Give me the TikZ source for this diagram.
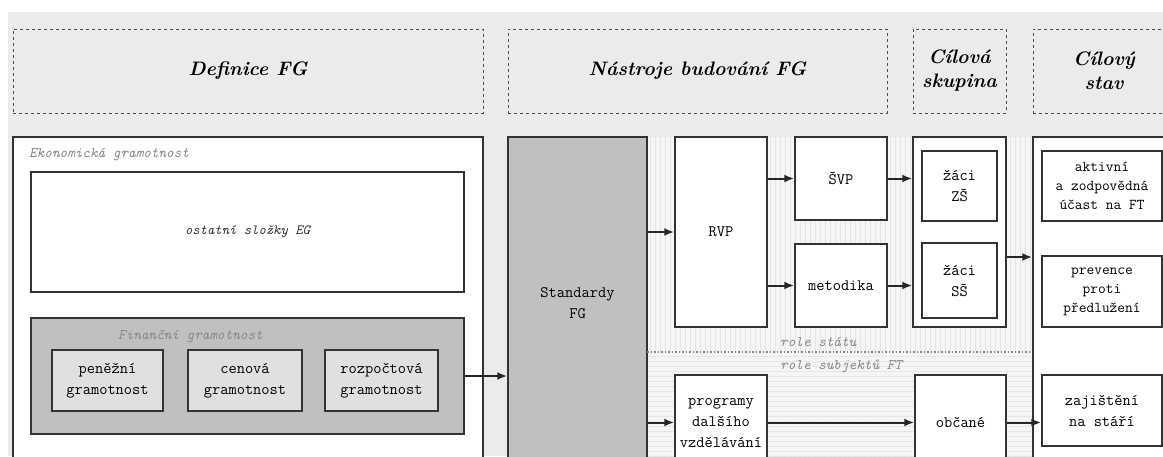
\documentclass[tikz,border=0pt]{standalone}
\usepackage{tikz}
\usetikzlibrary{arrows.meta, patterns.meta, positioning}
\definecolor{bggray}{RGB}{235,235,235}
\definecolor{midgray}{RGB}{192,192,192}
\definecolor{lightgray2}{RGB}{224,224,224}
\definecolor{labelgray}{RGB}{135,135,135}

\tikzset{
  box/.style={draw=black!80, line width=1.5pt, fill=white, inner sep=0pt, align=center,
    font=\fontsize{16}{21}\selectfont\ttfamily},
  head/.style={draw=black!70, dashed, line width=1pt, inner sep=0pt, align=center,
    font=\fontsize{19.5}{24}\selectfont\bfseries\itshape},
  note/.style={text=labelgray, inner sep=0pt, anchor=west,
    font=\fontsize{14.5}{16}\selectfont\ttfamily\itshape},
  link/.style={->, line width=2pt, draw=black!85},
}

\begin{document}
\begin{tikzpicture}[x=1pt, y=-1pt, >={Latex[length=10pt,width=8pt]}]
    \useasboundingbox (0,0) rectangle (1163,456);
    \clip (0,0) rectangle (1163,456);
    \fill[white] (0,0) rectangle (1163,456);
    \fill[bggray] (8,12) rectangle (1163,456);
    % striped zone of the tools
    \fill[white!96!black] (647,137) rectangle (1033,470);
    \fill[pattern={Lines[angle=90, distance=5pt, line width=1pt]}, pattern color=black!10] (647,137) rectangle (1033,352);
    \fill[pattern={Lines[angle=0, distance=5pt, line width=1pt]}, pattern color=black!10] (647,352) rectangle (1033,470);

    % column headers
    \node[head, minimum width=470, minimum height=84] (hdef) at (248,71) {Definice FG};
    \node[head, minimum width=379, minimum height=84] (hnas) at (697.5,71) {Nástroje budování FG};
    \node[head, minimum width=93, minimum height=84] (hcil) at (959.5,71) {Cílová\\skupina};
    \node[head, minimum width=142, minimum height=84] (hstav) at (1104,71) {Cílový\\stav};

    % Definice FG
    \node[box, minimum width=470, minimum height=333] (ekon) at (248,303.5) {};
    \node[note] (ekonlbl) at (29,155) {Ekonomická gramotnost};
    \node[box, minimum width=433, minimum height=120, text=black!80,
          font=\fontsize{14}{16}\selectfont\ttfamily\itshape] (ost) at (247.5,232) {ostatní složky EG};
    \node[box, fill=midgray, minimum width=433, minimum height=116] (fin) at (247.5,376) {};
    \node[note] (finlbl) at (118,337) {Finanční gramotnost};
    \node[box, fill=lightgray2, minimum width=111, minimum height=61] (pen) at (107.5,380.5) {peněžní\\gramotnost};
    \node[box, fill=lightgray2, minimum width=114, minimum height=61] (cen) at (245,380.5) {cenová\\gramotnost};
    \node[box, fill=lightgray2, minimum width=113, minimum height=61] (roz) at (381.5,380.5) {rozpočtová\\gramotnost};

    % Nastroje budovani FG
    \node[box, fill=midgray, minimum width=139, minimum height=333] (std) at (577.5,303.5) {Standardy\\FG};
    \node[box, minimum width=92, minimum height=190] (rvp) at (721,232) {RVP};
    \node[box, minimum width=92, minimum height=83] (svp) at (841,178.5) {ŠVP};
    \node[box, minimum width=92, minimum height=83] (met) at (841,285.5) {metodika};
    \node[box, minimum width=92, minimum height=95] (prog) at (721,422.5) {programy\\dalšího\\vzdělávání};
    \draw[dotted, line width=1.5pt, labelgray] (647,352) -- (1033,352);
    \node[note] (stat) at (780,342) {role státu};
    \node[note] (subj) at (780,366) {role subjektů FT};

    % Cilova skupina
    \node[box, minimum width=93, minimum height=190] (cil) at (959.5,232) {};
    \node[box, minimum width=75, minimum height=70] (zs) at (959.5,186) {žáci\\ZŠ};
    \node[box, minimum width=75, minimum height=75] (ss) at (959.5,280.5) {žáci\\SŠ};
    \node[box, minimum width=91, minimum height=95] (obc) at (960.5,422.5) {občané};

    % Cilovy stav
    \node[box, minimum width=142, minimum height=333] (stav) at (1104,303.5) {};
    \node[box, minimum width=120, minimum height=70, font=\fontsize{15}{19}\selectfont\ttfamily] (akt) at (1102,186) {aktivní\\a zodpovědná\\účast na FT};
    \node[box, minimum width=120, minimum height=71, font=\fontsize{15}{19}\selectfont\ttfamily] (prev) at (1102,291.5) {prevence\\proti\\předlužení};
    \node[box, minimum width=120, minimum height=71] (zaj) at (1102,410.5) {zajištění\\na stáří};

    \draw[link] (fin.east) -- (fin.east -| std.west);
    \draw[link] (std.east |- rvp.west) -- (rvp.west);
    \draw[link] (rvp.east |- svp.west) -- (svp.west);
    \draw[link] (rvp.east |- met.west) -- (met.west);
    \draw[link] (svp.east) -- (svp.east -| cil.west);
    \draw[link] (met.east) -- (met.east -| cil.west);
    \draw[link] ([yshift=-25pt]cil.east) -- ([yshift=-25pt]cil.east -| stav.west);
    \draw[link] (std.east |- prog.west) -- (prog.west);
    \draw[link] (prog.east) -- (obc.west);
    \draw[link] (obc.east) -- (obc.east -| zaj.west);
\end{tikzpicture}
\end{document}
